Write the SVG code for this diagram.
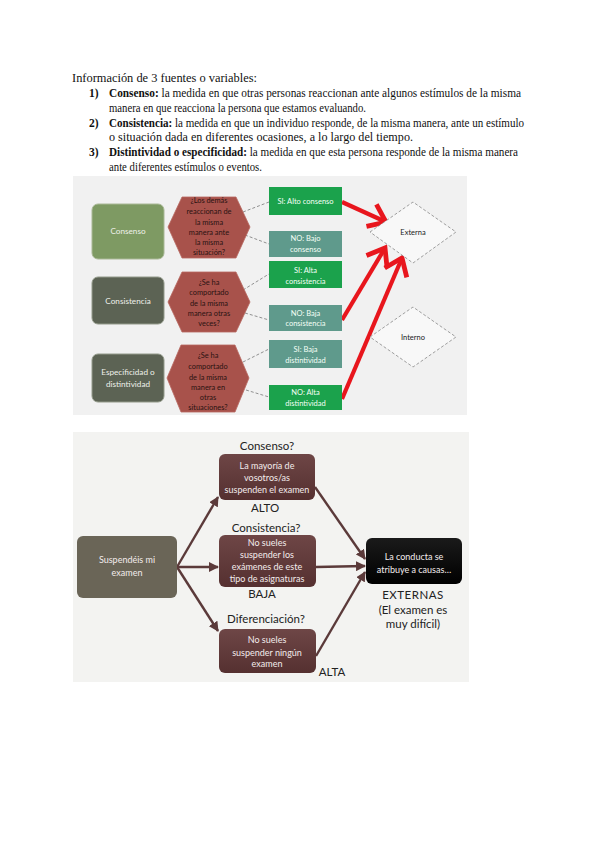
<svg xmlns="http://www.w3.org/2000/svg" width="600" height="848" viewBox="0 0 600 848">
<defs>
<style>
.doc{font-family:"Liberation Serif","Times New Roman",serif;font-size:11.5px;fill:#111}
.b{font-weight:bold}
.sm{font-family:Lato,"Liberation Sans",sans-serif;text-anchor:middle}
.lbox{font-size:8.2px;fill:#eef0ea}
.hex{fill:#a8524b;stroke:#b86861;stroke-width:0.8}
.hext{font-size:7.4px;fill:#2a1212}
.grn{fill:#1ba24c}
.tea{fill:#5f9a8c}
.gt{font-size:7.5px;fill:#f4fff6}
.dash{stroke:#777;stroke-width:0.8;stroke-dasharray:3 2;fill:none}
.dia{fill:#f8f8f8;stroke:#888;stroke-width:0.8;stroke-dasharray:3 2}
.diat{font-size:7.5px;fill:#222}
.red{stroke:#e8161d;stroke-width:4.2;fill:none;marker-end:url(#rv)}
.mt{font-size:9px;fill:#f3ecec}
.lab{font-size:11.5px;fill:#222}
.brn{stroke:#5b3a3a;stroke-width:2.4;fill:none;marker-end:url(#ah)}
</style>
<marker id="rv" markerUnits="userSpaceOnUse" viewBox="-20 -14 24 28" markerWidth="24" markerHeight="28" refX="0" refY="0" orient="auto" overflow="visible">
<path d="M-16,-12 L0,0 L-16,12" stroke="#e8161d" stroke-width="4.8" fill="none" stroke-linejoin="miter"/>
</marker>
<marker id="ah" markerUnits="userSpaceOnUse" viewBox="0 0 10 10" markerWidth="10" markerHeight="10" refX="9" refY="5" orient="auto">
<path d="M0,0 L10,5 L0,10 z" fill="#5b3a3a"/>
</marker>
<linearGradient id="mg" x1="0" y1="0" x2="0" y2="1">
<stop offset="0" stop-color="#6e4646"/>
<stop offset="1" stop-color="#553030"/>
</linearGradient>
<linearGradient id="kg" x1="0" y1="0" x2="0" y2="1">
<stop offset="0" stop-color="#1a1a1a"/>
<stop offset="1" stop-color="#000"/>
</linearGradient>
</defs>
<rect width="600" height="848" fill="#fff"/>

<g id="intro">
<text class="doc" x="72" y="82" textLength="185" lengthAdjust="spacingAndGlyphs">Información de 3 fuentes o variables:</text>
<text class="doc b" x="89" y="97">1)</text>
<text class="doc" x="109" y="97" textLength="412" lengthAdjust="spacingAndGlyphs"><tspan class="b">Consenso:</tspan> la medida en que otras personas reaccionan ante algunos estímulos de la misma</text>
<text class="doc" x="109" y="111.5" textLength="257" lengthAdjust="spacingAndGlyphs">manera en que reacciona la persona que estamos evaluando.</text>
<text class="doc b" x="89" y="126.5">2)</text>
<text class="doc" x="109" y="126.5" textLength="415" lengthAdjust="spacingAndGlyphs"><tspan class="b">Consistencia:</tspan> la medida en que un individuo responde, de la misma manera, ante un estímulo</text>
<text class="doc" x="109" y="141" textLength="304" lengthAdjust="spacingAndGlyphs">o situación dada en diferentes ocasiones, a lo largo del tiempo.</text>
<text class="doc b" x="89" y="156">3)</text>
<text class="doc" x="109" y="156" textLength="409" lengthAdjust="spacingAndGlyphs"><tspan class="b">Distintividad o especificidad:</tspan> la medida en que esta persona responde de la misma manera</text>
<text class="doc" x="109" y="170.5" textLength="153" lengthAdjust="spacingAndGlyphs">ante diferentes estímulos o eventos.</text>
</g>

<rect id="panel1" x="73" y="176" width="394" height="239" fill="#f1f1f1"/>

<g id="connectors1">
<line class="dash" x1="243" y1="212" x2="269" y2="202"/>
<line class="dash" x1="245" y1="235" x2="269" y2="244"/>
<line class="dash" x1="243" y1="290" x2="269" y2="274"/>
<line class="dash" x1="245" y1="313" x2="269" y2="320"/>
<line class="dash" x1="243" y1="362" x2="269" y2="349"/>
<line class="dash" x1="246" y1="390" x2="269" y2="397"/>
<line class="red" x1="342" y1="202" x2="386" y2="222"/>
<line class="red" x1="342" y1="320" x2="385" y2="248"/>
<line class="red" x1="342" y1="399" x2="402" y2="258"/>
</g>

<g id="consenso">
<rect x="92" y="204" width="72" height="55" rx="6" fill="#7e9a63" stroke="#a9b896" stroke-width="1"/>
<text class="sm lbox" x="128" y="234">Consenso</text>
</g>
<g id="consistencia">
<rect x="92" y="277" width="72" height="47" rx="6" fill="#5c6354" stroke="#939a8a" stroke-width="1"/>
<text class="sm lbox" x="128" y="304">Consistencia</text>
</g>
<g id="especificidad">
<rect x="92" y="354" width="72" height="48" rx="6" fill="#5c6354" stroke="#939a8a" stroke-width="1"/>
<text class="sm lbox" x="128" y="374.5">Especificidad o</text>
<text class="sm lbox" x="128" y="386.5">distintividad</text>
</g>

<g id="hex1">
<polygon class="hex" points="168,227 182,197 236,197 250,227 236,258 182,258"/>
<text class="sm hext" x="209" y="202.5">¿Los demás</text>
<text class="sm hext" x="209" y="214">reaccionan de</text>
<text class="sm hext" x="209" y="224.5">la misma</text>
<text class="sm hext" x="209" y="234.5">manera ante</text>
<text class="sm hext" x="209" y="245">la misma</text>
<text class="sm hext" x="209" y="255">situación?</text>
</g>
<g id="hex2">
<polygon class="hex" points="168,302 182,272 236,272 250,302 236,332 182,332"/>
<text class="sm hext" x="209" y="284.5">¿Se ha</text>
<text class="sm hext" x="209" y="294.5">comportado</text>
<text class="sm hext" x="209" y="305.5">de la misma</text>
<text class="sm hext" x="209" y="315.5">manera otras</text>
<text class="sm hext" x="209" y="325.5">veces?</text>
</g>
<g id="hex3">
<polygon class="hex" points="167,378 181,345 235,345 249,378 235,412 181,412"/>
<text class="sm hext" x="208" y="357.5">¿Se ha</text>
<text class="sm hext" x="208" y="368.5">comportado</text>
<text class="sm hext" x="208" y="379.5">de la misma</text>
<text class="sm hext" x="208" y="389.5">manera en</text>
<text class="sm hext" x="208" y="399.5">otras</text>
<text class="sm hext" x="208" y="409.5">situaciones?</text>
</g>

<g id="si-alto-consenso">
<rect class="grn" x="269" y="187" width="73" height="28"/>
<text class="sm gt" x="305.5" y="203.5">SI: Alto consenso</text>
</g>
<g id="no-bajo-consenso">
<rect class="tea" x="269" y="231" width="73" height="26"/>
<text class="sm gt" x="305.5" y="241">NO: Bajo</text>
<text class="sm gt" x="305.5" y="252">consenso</text>
</g>
<g id="si-alta-consistencia">
<rect class="grn" x="269" y="261" width="73" height="27"/>
<text class="sm gt" x="305.5" y="272.5">SI: Alta</text>
<text class="sm gt" x="305.5" y="283.5">consistencia</text>
</g>
<g id="no-baja-consistencia">
<rect class="tea" x="269" y="305" width="73" height="26"/>
<text class="sm gt" x="305.5" y="315.5">NO: Baja</text>
<text class="sm gt" x="305.5" y="326">consistencia</text>
</g>
<g id="si-baja-distintividad">
<rect class="tea" x="269" y="340" width="73" height="28"/>
<text class="sm gt" x="305.5" y="352">SI: Baja</text>
<text class="sm gt" x="305.5" y="363">distintividad</text>
</g>
<g id="no-alta-distintividad">
<rect class="grn" x="269" y="385" width="73" height="25"/>
<text class="sm gt" x="305.5" y="395">NO: Alta</text>
<text class="sm gt" x="305.5" y="406">distintividad</text>
</g>

<g id="externa">
<polygon class="dia" points="370,232 413,202 456,232 413,263"/>
<text class="sm diat" x="413" y="235">Externa</text>
</g>
<g id="interno">
<polygon class="dia" points="370,337 413,307 456,337 413,367"/>
<text class="sm diat" x="413" y="340">Interno</text>
</g>

<rect id="panel2" x="73" y="432" width="396" height="250" fill="#f3f3f1"/>

<g id="connectors2">
<line class="brn" x1="177" y1="567" x2="218" y2="497"/>
<line class="brn" x1="177" y1="567" x2="218" y2="567"/>
<line class="brn" x1="177" y1="567" x2="218" y2="631"/>
<line class="brn" x1="315" y1="487" x2="365" y2="559"/>
<line class="brn" x1="316" y1="567" x2="365" y2="566"/>
<line class="brn" x1="316" y1="656" x2="365" y2="572"/>
</g>

<g id="suspendeis">
<rect x="77" y="536" width="100" height="62" rx="6" fill="#6a6557"/>
<text class="sm mt" x="127" y="563">Suspendéis mi</text>
<text class="sm mt" x="127" y="576">examen</text>
</g>

<g id="consenso-q">
<text class="sm lab" x="267" y="450">Consenso?</text>
<rect x="219" y="454" width="96" height="46" rx="6" fill="url(#mg)"/>
<text class="sm mt" x="267" y="469">La mayoría de</text>
<text class="sm mt" x="267" y="481">vosotros/as</text>
<text class="sm mt" x="267" y="493">suspenden el examen</text>
<text class="sm lab" x="265" y="511.5">ALTO</text>
</g>

<g id="consistencia-q">
<text class="sm lab" x="266" y="531.5">Consistencia?</text>
<rect x="219" y="535" width="97" height="52" rx="6" fill="url(#mg)"/>
<text class="sm mt" x="267" y="546">No sueles</text>
<text class="sm mt" x="267" y="558">suspender los</text>
<text class="sm mt" x="267" y="570">exámenes de este</text>
<text class="sm mt" x="267" y="581.5">tipo de asignaturas</text>
<text class="sm lab" x="262" y="598">BAJA</text>
</g>

<g id="diferenciacion-q">
<text class="sm lab" x="266" y="623">Diferenciación?</text>
<rect x="219" y="629" width="97" height="44" rx="6" fill="url(#mg)"/>
<text class="sm mt" x="267" y="643">No sueles</text>
<text class="sm mt" x="267" y="655.5">suspender ningún</text>
<text class="sm mt" x="267" y="667">examen</text>
<text class="sm lab" x="332" y="676">ALTA</text>
</g>

<g id="conducta">
<rect x="366" y="538" width="96" height="46" rx="6" fill="url(#kg)"/>
<text class="sm mt" x="414" y="560">La conducta se</text>
<text class="sm mt" x="414" y="573">atribuye a causas…</text>
<text class="sm lab" x="413" y="599" letter-spacing="0.5">EXTERNAS</text>
<text class="sm lab" font-size="10.5" x="413" y="614">(El examen es</text>
<text class="sm lab" font-size="10.5" x="413" y="628">muy difícil)</text>
</g>
</svg>
